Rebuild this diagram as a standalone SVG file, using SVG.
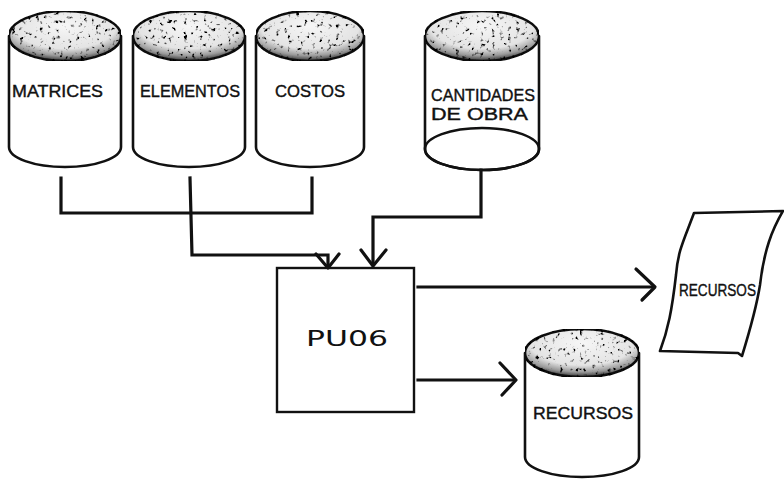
<svg xmlns="http://www.w3.org/2000/svg" width="784" height="481" viewBox="0 0 784 481">
<defs>
<filter id="speck" x="0" y="0" width="1" height="1">
<feTurbulence type="fractalNoise" baseFrequency="0.25" numOctaves="3" seed="4" result="n"/>
<feColorMatrix in="n" type="matrix" values="0 0 0 0 0  0 0 0 0 0  0 0 0 0 0  -6 0 0 0 2.45" result="dots"/>
<feComposite in="dots" in2="SourceGraphic" operator="in" result="d2"/>
<feMerge><feMergeNode in="SourceGraphic"/><feMergeNode in="d2"/></feMerge>
</filter>
<radialGradient id="topg" cx="0.5" cy="0.3" r="0.7">
<stop offset="0" stop-color="#f6f6f6"/>
<stop offset="0.65" stop-color="#e4e4e4"/>
<stop offset="0.85" stop-color="#9a9a9a"/>
<stop offset="1" stop-color="#333"/>
</radialGradient>
</defs>
<style>
.body{fill:#fff;stroke:#111;stroke-width:2.6;stroke-linejoin:round}
.top{fill:url(#topg);stroke:#111;stroke-width:2.6}
.lbl{font-family:"Liberation Sans","DejaVu Sans",sans-serif;font-size:17px;fill:#111;stroke:#111;stroke-width:0.4}
.con{fill:none;stroke:#111;stroke-width:3.2;stroke-linejoin:miter;stroke-linecap:square}
.head{fill:none;stroke:#111;stroke-width:3.2;stroke-linecap:round;stroke-linejoin:round}
.box{fill:#fff;stroke:#111;stroke-width:2.4}
</style>
<rect width="784" height="481" fill="#fff"/>

<g id="matrices">
<path class="body" d="M9,36 L9,147 A56,20 0 0 0 121,147 L121,36 Z"/>
<ellipse class="top" cx="65" cy="36" rx="56" ry="25" filter="url(#speck)"/>
<text class="lbl" x="12" y="97" textLength="91" lengthAdjust="spacingAndGlyphs">MATRICES</text>
</g>
<g id="elementos">
<path class="body" d="M133,36 L133,147 A56,20 0 0 0 245,147 L245,36 Z"/>
<ellipse class="top" cx="189" cy="36" rx="56" ry="25" filter="url(#speck)"/>
<text class="lbl" x="140" y="97" textLength="100" lengthAdjust="spacingAndGlyphs">ELEMENTOS</text>
</g>
<g id="costos">
<path class="body" d="M256,36 L256,147 A54,20 0 0 0 364,147 L364,36 Z"/>
<ellipse class="top" cx="310" cy="36" rx="54" ry="25" filter="url(#speck)"/>
<text class="lbl" x="275" y="97" textLength="70" lengthAdjust="spacingAndGlyphs">COSTOS</text>
</g>
<g id="cantidades">
<path class="body" d="M425,36 L425,149 A57,21 0 0 0 539,149 L539,36 Z"/>
<ellipse class="top" cx="482" cy="36" rx="57" ry="25" filter="url(#speck)"/>
<ellipse cx="482" cy="149" rx="57" ry="21" fill="none" stroke="#111" stroke-width="2.6"/>
<text class="lbl" x="431" y="101" textLength="104" lengthAdjust="spacingAndGlyphs">CANTIDADES</text>
<text class="lbl" x="431" y="120" textLength="97" lengthAdjust="spacingAndGlyphs">DE  OBRA</text>
</g>
<g id="pu06">
<rect class="box" x="277" y="268" width="137" height="144"/>
<text x="306" y="346" font-family="'DejaVu Sans','Liberation Sans',sans-serif" font-size="22" fill="#111" textLength="82" lengthAdjust="spacingAndGlyphs">PU06</text>
</g>
<g id="recursos-doc">
<path class="body" d="M694,213 C684,240 678,250 676,275 C672,310 668,330 660,351 L738,353 L742,356 C750,330 756,310 760,285 C764,250 772,230 783,211 Z"/>
<text class="lbl" x="679" y="296" textLength="77" lengthAdjust="spacingAndGlyphs">RECURSOS</text>
</g>
<g id="recursos-db">
<path class="body" d="M525,353 L525,457 A57,20 0 0 0 639,457 L639,353 Z"/>
<ellipse class="top" cx="582" cy="353" rx="57" ry="24" filter="url(#speck)"/>
<text class="lbl" x="533" y="419" textLength="100" lengthAdjust="spacingAndGlyphs">RECURSOS</text>
</g>

<g id="connectors">
<path class="con" d="M61,178 L61,213 L312,213 L312,178"/>
<path class="con" d="M190,178 L192,255 L328,255 L328,266"/>
<path class="head" d="M316,254 L328,268 L339,254"/>
<path class="con" d="M481,170 L481,217 L373,217 L373,264"/>
<path class="head" d="M361,250 L373,266 L386,250"/>
<path class="con" d="M418,287 L653,287"/>
<path class="head" d="M636,269 L655,287 L642,300"/>
<path class="con" d="M418,380 L514,380"/>
<path class="head" d="M500,363 L516,380 L502,395"/>
</g>
</svg>
